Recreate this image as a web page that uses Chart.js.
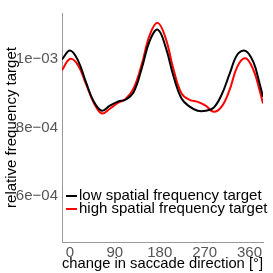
<!DOCTYPE html>
<html><head><meta charset="utf-8">
<script src="https://cdn.jsdelivr.net/npm/chart.js@4"></script>
<style>html,body{margin:0;padding:0;background:#fff}#w{width:273px;height:273px}</style>
</head><body><div id="w"><canvas id="c" width="273" height="273"></canvas></div>
<script>
const angles = [-16,0,16,32,48,64,80,96,112,128,144,160,176,192,208,224,240,256,272,288,304,320,336,352,368,380,387];
const lowSF  = [1.000,1.026,0.997,0.933,0.875,0.849,0.864,0.876,0.882,0.905,0.974,1.055,1.087,1.035,0.948,0.884,0.861,0.849,0.849,0.858,0.896,0.957,1.015,1.025,0.991,0.930,0.890];
const highSF = [0.968,1.001,0.983,0.928,0.872,0.841,0.855,0.872,0.884,0.916,0.986,1.072,1.107,1.061,0.968,0.899,0.881,0.875,0.864,0.846,0.861,0.910,0.980,1.003,0.968,0.910,0.870];
const xTicks = [0,90,180,270,360];
const yTicks = [6e-4,8e-4,1e-3];
const yTickLabels = ["6e\u221204","8e\u221204","1e\u221203"];
const seriesNames = ["low spatial frequency target","high spatial frequency target"];
const seriesColors = ["#000000","#ff0000"];

const toPts = arr => angles.map((a,i)=>({x:a,y:arr[i]*1e-3}));
const FONT = "'Liberation Sans', Arial, sans-serif";

const legendPlugin = {
  id:'innerLegend',
  afterDraw(chart){
    const ctx = chart.ctx;
    ctx.save();
    ctx.font = "15px " + FONT;
    ctx.textBaseline = "middle";
    const rows = [196, 209];
    seriesNames.forEach((n,i)=>{
      ctx.strokeStyle = seriesColors[i];
      ctx.lineWidth = 2;
      ctx.beginPath(); ctx.moveTo(66, rows[i]); ctx.lineTo(77, rows[i]); ctx.stroke();
      ctx.fillStyle = "#000";
      ctx.fillText(n, 79, rows[i]);
    });
    ctx.restore();
  }
};

new Chart(document.getElementById('c'), {
  type:'line',
  data:{datasets:[
    {label:seriesNames[0], data:toPts(lowSF), borderColor:seriesColors[0], borderWidth:2, pointRadius:0, tension:0.4, fill:false},
    {label:seriesNames[1], data:toPts(highSF), borderColor:seriesColors[1], borderWidth:2, pointRadius:0, tension:0.4, fill:false}
  ]},
  options:{
    responsive:false, animation:false, devicePixelRatio:1,
    layout:{padding:{top:10,right:10,left:0,bottom:0}},
    plugins:{legend:{display:false}, tooltip:{enabled:false}},
    scales:{
      x:{type:'linear', min:-16, max:387,
        afterBuildTicks: s => { s.ticks = xTicks.map(v=>({value:v})); },
        afterFit: s => { s.height = 31; },
        grid:{display:false, drawTicks:false},
        border:{display:true, color:'#999999', width:1},
        ticks:{color:'#555555', font:{family:FONT, size:15}, padding:2, maxRotation:0, autoSkip:false},
        title:{display:true, text:"change in saccade direction [°]", color:'#000', font:{family:FONT,size:15}, padding:{top:0,bottom:0}}
      },
      y:{type:'linear', min:4.637e-4, max:1.136e-3,
        afterBuildTicks: s => { s.ticks = yTicks.map(v=>({value:v})); },
        afterFit: s => { s.width = 62; },
        grid:{display:false, drawTicks:false},
        border:{display:true, color:'#999999', width:1},
        ticks:{color:'#555555', font:{family:FONT, size:15}, padding:4, autoSkip:false,
          callback:(v,i)=>yTickLabels[i]},
        title:{display:true, text:"relative frequency target", color:'#000', font:{family:FONT,size:15}, padding:{top:3,bottom:0}}
      }
    }
  },
  plugins:[legendPlugin]
});
</script></body></html>
